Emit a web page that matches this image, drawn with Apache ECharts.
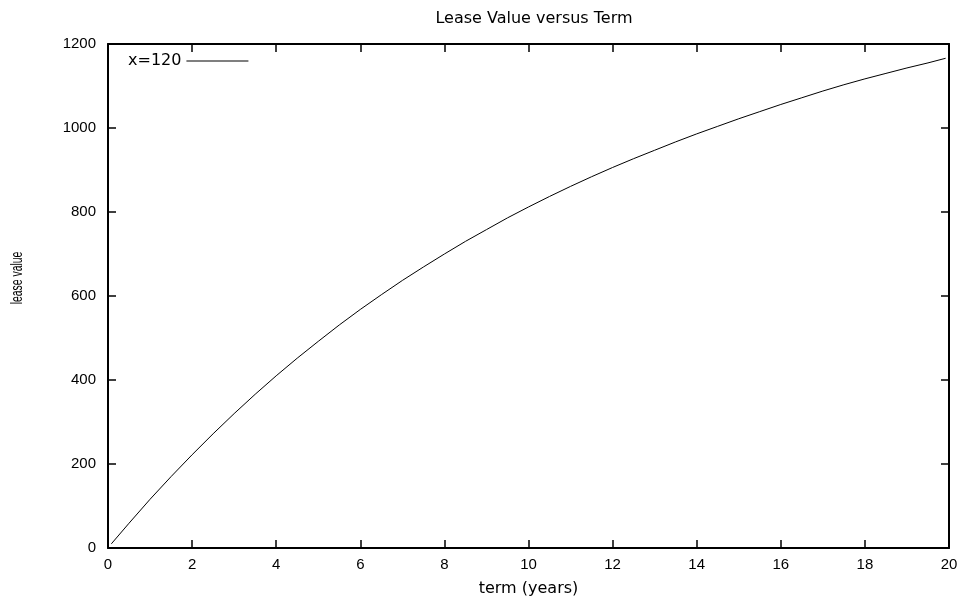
<!DOCTYPE html>
<html>
<head>
<meta charset="utf-8">
<script src="https://cdn.jsdelivr.net/npm/echarts@6/dist/echarts.min.js"></script>
<style>
html,body{margin:0;padding:0;background:#fff;}
#chart{width:970px;height:603px;}
</style>
</head>
<body>
<div id="chart"></div>
<script>
// term in years
var terms = [0.08, 0.5, 1, 1.5, 2, 2.5, 3, 3.5, 4, 4.5, 5, 5.5, 6, 6.5, 7, 7.5, 8, 8.5, 9, 9.5, 10,
             10.5, 11, 11.5, 12, 12.5, 13, 13.5, 14, 14.5, 15, 15.5, 16, 16.5, 17, 17.5, 18, 18.5, 19, 19.5, 19.92];
// lease value
var leaseValues = [10, 59, 116, 170, 222, 272, 320, 366, 410, 452, 492, 531, 568, 603, 637, 669, 700, 730, 758, 786, 812,
                   837, 861, 884, 906, 927, 947, 967, 986, 1004, 1022, 1039, 1056, 1072, 1088, 1103, 1117, 1130, 1143, 1155, 1166];
var seriesName = 'x=120';
var xTicks = [0, 20, 2];      // min, max, interval
var yTicks = [0, 1200, 200];  // min, max, interval

var chart = echarts.init(document.getElementById('chart'), null, {renderer: 'canvas'});
var tickFont = "'Liberation Sans', Arial, sans-serif";
var textFont = "'DejaVu Sans', sans-serif";
var axisLine = {show: true, onZero: false, lineStyle: {color: '#000', width: 2}};
var axisTick = {show: true, inside: true, length: 8, lineStyle: {color: '#000', width: 1.5}};
var plain = function (v) { return String(v); };

var option = {
  animation: false,
  backgroundColor: '#fff',
  title: {
    text: 'Lease Value versus Term',
    left: 529, top: 6, textAlign: 'center',
    textStyle: {fontFamily: textFont, fontSize: 16, fontWeight: 'normal', color: '#000'}
  },
  legend: {
    left: 123, top: 48, align: 'right',
    itemWidth: 62, itemHeight: 1, icon: 'rect',
    itemStyle: {color: '#000'},
    textStyle: {fontFamily: textFont, fontSize: 16, color: '#000'},
    data: [seriesName]
  },
  grid: {left: 108, right: 21, top: 44, bottom: 55},
  xAxis: [{
    type: 'value', position: 'bottom', min: xTicks[0], max: xTicks[1], interval: xTicks[2],
    axisLine: axisLine, axisTick: axisTick, splitLine: {show: false},
    axisLabel: {margin: 9, fontFamily: tickFont, fontSize: 15, color: '#000', formatter: plain},
    name: 'term (years)', nameLocation: 'middle', nameGap: 33,
    nameTextStyle: {fontFamily: textFont, fontSize: 16, color: '#000'}
  }, {
    type: 'value', position: 'top', min: xTicks[0], max: xTicks[1], interval: xTicks[2],
    axisLine: axisLine, axisTick: axisTick, splitLine: {show: false},
    axisLabel: {show: false}
  }],
  yAxis: [{
    type: 'value', position: 'left', min: yTicks[0], max: yTicks[1], interval: yTicks[2],
    axisLine: axisLine, axisTick: axisTick, splitLine: {show: false},
    axisLabel: {margin: 12, fontFamily: tickFont, fontSize: 15, color: '#000', formatter: plain}
  }, {
    type: 'value', position: 'right', min: yTicks[0], max: yTicks[1], interval: yTicks[2],
    axisLine: axisLine, axisTick: axisTick, splitLine: {show: false},
    axisLabel: {show: false}
  }],
  graphic: [{
    type: 'text', x: 18, y: 278, rotation: Math.PI / 2, scaleX: 0.65, scaleY: 1,
    style: {text: 'lease value', fontFamily: "'Liberation Sans', Arial, sans-serif",
            fontSize: 16, fill: '#000', align: 'center', verticalAlign: 'middle'}
  }],
  series: [{
    name: seriesName, type: 'line', xAxisIndex: 0, yAxisIndex: 0,
    data: terms.map(function (t, i) { return [t, leaseValues[i]]; }),
    showSymbol: false, smooth: false,
    lineStyle: {color: '#000', width: 1},
    itemStyle: {color: '#000'}
  }]
};
chart.setOption(option);
</script>
</body>
</html>
